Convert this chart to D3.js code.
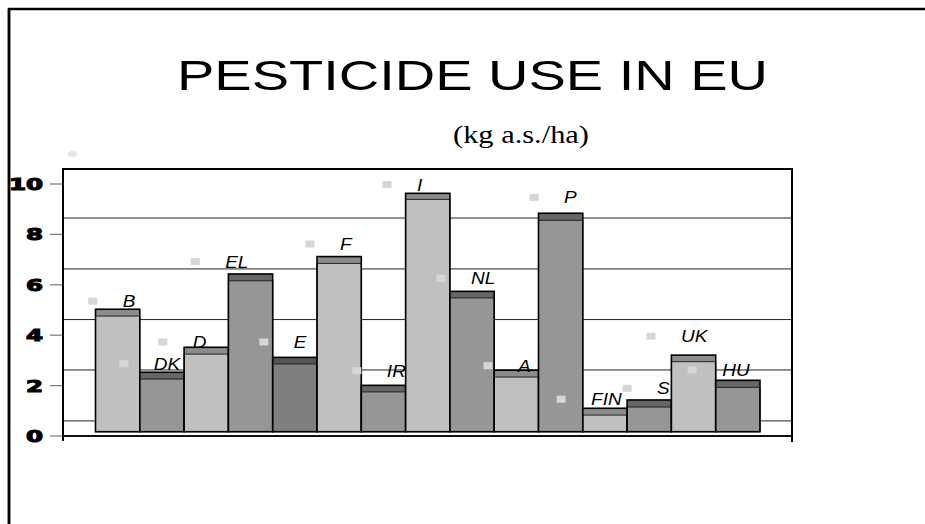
<!DOCTYPE html>
<html>
<head>
<meta charset="utf-8">
<script src="https://cdn.jsdelivr.net/npm/d3@7"></script>
<style>
  html, body { margin: 0; padding: 0; background: #fff; }
  #chart { width: 925px; height: 524px; }
</style>
</head>
<body>
<div id="chart"></div>
<script>
// country codes, one bar each
const countries = ["B", "DK", "D", "EL", "E", "F", "IR", "I", "NL", "A", "P", "FIN", "S", "UK", "HU"];
// bar height (top of the dark cap) and top of the main part, kg a.s./ha
const barTotals = [5.03, 2.53, 3.52, 6.43, 3.12, 7.12, 2.01, 9.63, 5.74, 2.61, 8.84, 1.10, 1.43, 3.21, 2.21];
const barLower  = [4.76, 2.26, 3.25, 6.16, 2.86, 6.85, 1.75, 9.39, 5.48, 2.34, 8.56, 0.83, 1.15, 2.95, 1.93];
// label markers: position in bar slots and value
const markerSlot  = [-0.06, 0.64, 1.52, 2.25, 3.80, 4.84, 5.90, 6.58, 7.80, 8.86, 9.90, 10.51, 12.0, 12.54, 13.47];
const markerValue = [5.35, 2.87, 3.73, 6.92, 3.73, 7.62, 2.59, 9.98, 6.26, 2.79, 9.47, 1.46, 1.89, 3.96, 2.62];
// axis ticks and the (offset) gridlines of the inner chart
const yTicks = [0, 2, 4, 6, 8, 10];
const gridValues = [0.6, 2.62, 4.62, 6.63, 8.65];
const barBase = 0.17;

document.addEventListener("DOMContentLoaded", function() {
  const width = 925, height = 524;

  const svg = d3.select("#chart").append("svg")
    .attr("width", width)
    .attr("height", height)
    .style("display", "block");

  // 1) scales
  const y = d3.scaleLinear().domain([0, 10]).range([436, 184]);
  const x = d3.scaleBand().domain(countries).range([95.5, 760]).padding(0);
  const slot = d3.scaleLinear().domain([0, countries.length]).range([95.5, 760]);

  const mainColor = d3.scaleOrdinal().domain(countries)
    .range(["#c0c0c0", "#969696", "#c0c0c0", "#969696", "#7f7f7f", "#c0c0c0", "#969696", "#c0c0c0",
            "#969696", "#c0c0c0", "#969696", "#c0c0c0", "#969696", "#c0c0c0", "#969696"]);
  const capColor = d3.scaleOrdinal().domain(countries)
    .range(["#8c8c8c", "#666666", "#8c8c8c", "#666666", "#555555", "#8c8c8c", "#666666", "#8c8c8c",
            "#666666", "#8c8c8c", "#666666", "#8c8c8c", "#666666", "#8c8c8c", "#666666"]);

  const bars = countries.map((c, i) => ({ name: c, total: barTotals[i], lower: barLower[i] }));
  const markers = countries.map((c, i) => ({ name: c, pos: markerSlot[i], value: markerValue[i] }));

  // 2) page frame
  svg.append("path")
    .attr("d", "M9,524 V9 H925")
    .attr("fill", "none")
    .attr("stroke", "#000")
    .attr("stroke-width", 2.5);

  // 3) titles
  svg.append("text")
    .attr("x", 472.5)
    .attr("y", 90)
    .attr("text-anchor", "middle")
    .attr("textLength", 591)
    .attr("lengthAdjust", "spacingAndGlyphs")
    .style("font-family", "'Liberation Sans', Arial, sans-serif")
    .style("font-size", "43px")
    .text("PESTICIDE USE IN EU");

  svg.append("text")
    .attr("x", 521)
    .attr("y", 142.5)
    .attr("text-anchor", "middle")
    .attr("textLength", 136)
    .attr("lengthAdjust", "spacingAndGlyphs")
    .style("font-family", "'Liberation Serif', 'Times New Roman', serif")
    .style("font-size", "25px")
    .text("(kg a.s./ha)");

  svg.append("ellipse")
    .attr("cx", 72.5).attr("cy", 154)
    .attr("rx", 5).attr("ry", 3.5)
    .attr("fill", "#e6e6e6");

  // 4) gridlines behind bars
  svg.append("g").selectAll("line")
    .data(gridValues)
    .enter().append("line")
    .attr("x1", 63).attr("x2", 792)
    .attr("y1", d => y(d)).attr("y2", d => y(d))
    .attr("stroke", "#222")
    .attr("stroke-width", 1);

  // 5) bars with a darker cap
  const g = svg.append("g").selectAll("g")
    .data(bars)
    .enter().append("g");

  g.append("rect")
    .attr("x", d => x(d.name))
    .attr("y", d => y(d.total))
    .attr("width", x.bandwidth())
    .attr("height", d => y(barBase) - y(d.total))
    .attr("fill", d => capColor(d.name));

  g.append("rect")
    .attr("x", d => x(d.name))
    .attr("y", d => y(d.lower))
    .attr("width", x.bandwidth())
    .attr("height", d => y(barBase) - y(d.lower))
    .attr("fill", d => mainColor(d.name))
    .attr("stroke", "#222")
    .attr("stroke-width", 1);

  g.append("rect")
    .attr("x", d => x(d.name))
    .attr("y", d => y(d.total))
    .attr("width", x.bandwidth())
    .attr("height", d => y(barBase) - y(d.total))
    .attr("fill", "none")
    .attr("stroke", "#000")
    .attr("stroke-width", 1.6);

  // 6) markers and their labels
  const m = svg.append("g").selectAll("g")
    .data(markers)
    .enter().append("g");

  m.append("rect")
    .attr("x", d => slot(d.pos) - 4.5)
    .attr("y", d => y(d.value) - 3.5)
    .attr("width", 9)
    .attr("height", 7)
    .attr("fill", "#d6d6d6");

  m.append("text")
    .attr("x", d => slot(d.pos) + 30)
    .attr("y", d => y(d.value) + 6)
    .style("font-family", "'Liberation Sans', Arial, sans-serif")
    .style("font-style", "italic")
    .style("font-size", "16.5px")
    .text(d => d.name)
    .each(function() {
      // the labels are a little wider than plain Arial
      const len = this.getComputedTextLength();
      d3.select(this).attr("textLength", len * 1.15).attr("lengthAdjust", "spacingAndGlyphs");
    });

  // 7) plot box and axis
  svg.append("path")
    .attr("d", "M63,441 V169 H792 V442")
    .attr("fill", "none")
    .attr("stroke", "#000")
    .attr("stroke-width", 2);

  svg.append("line")
    .attr("x1", 63).attr("x2", 792)
    .attr("y1", y(0)).attr("y2", y(0))
    .attr("stroke", "#111")
    .attr("stroke-width", 2.2);

  svg.append("g").selectAll("line")
    .data(yTicks)
    .enter().append("line")
    .attr("x1", 50).attr("x2", 62)
    .attr("y1", d => y(d)).attr("y2", d => y(d))
    .attr("stroke", "#777")
    .attr("stroke-width", 1.2);

  svg.append("g").selectAll("text")
    .data(yTicks)
    .enter().append("text")
    .attr("x", 43)
    .attr("y", d => y(d) + 6)
    .attr("text-anchor", "end")
    .attr("textLength", d => String(d).length * 17)
    .attr("lengthAdjust", "spacingAndGlyphs")
    .attr("stroke", "#000")
    .attr("stroke-width", 1.1)
    .style("font-family", "'DejaVu Sans', sans-serif")
    .style("font-weight", "bold")
    .style("font-size", "16px")
    .text(d => d);

  // the frame covers the clipped "1" of 10
  svg.append("line")
    .attr("x1", 9).attr("x2", 9)
    .attr("y1", 9).attr("y2", 524)
    .attr("stroke", "#000")
    .attr("stroke-width", 2.5);
});
</script>
</body>
</html>
